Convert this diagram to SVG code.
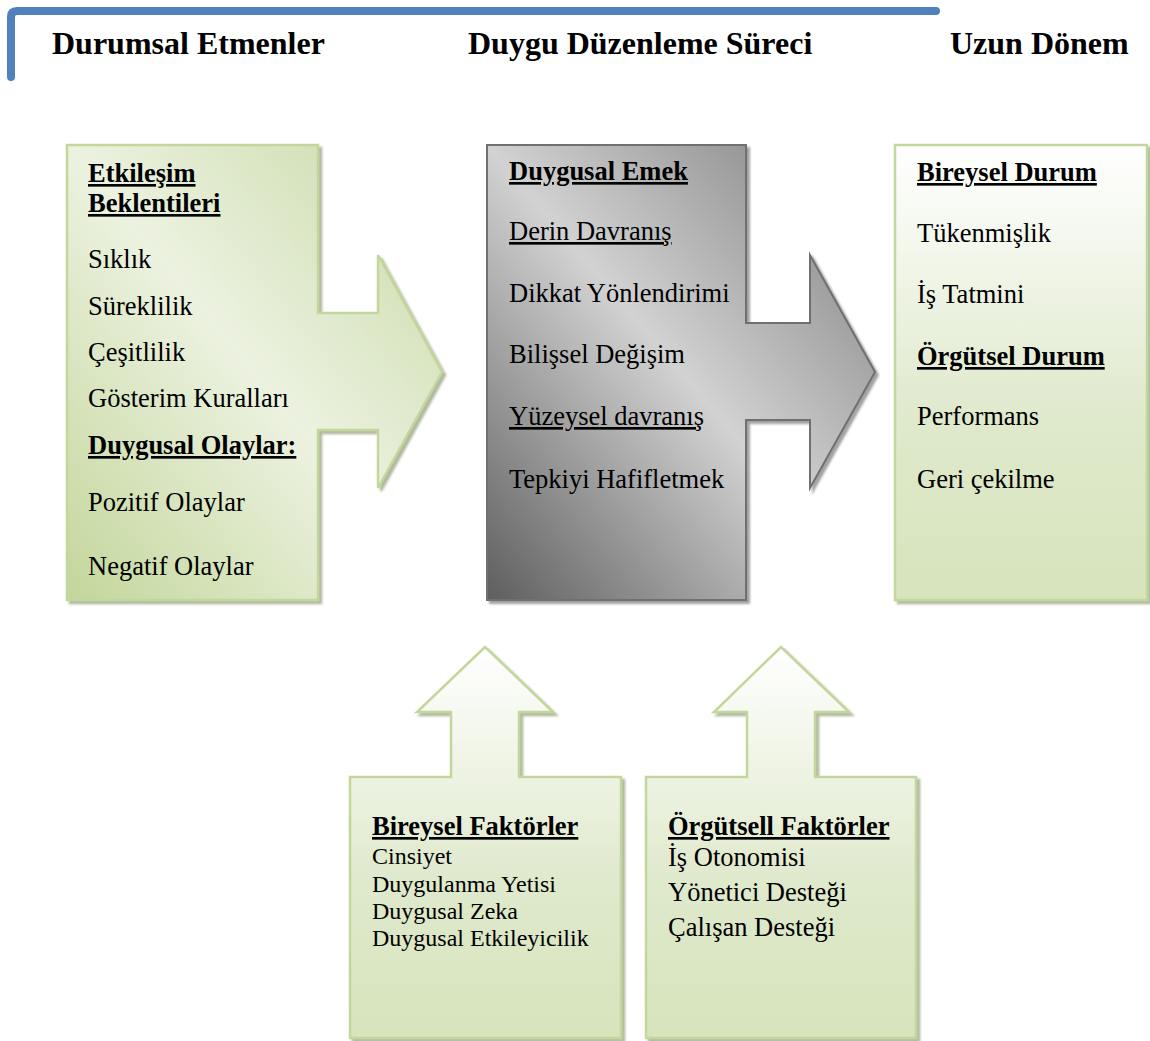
<svg xmlns="http://www.w3.org/2000/svg" width="1150" height="1041" viewBox="0 0 1150 1041">
  <style>
    text { font-family: "Liberation Serif", "Times New Roman", serif; fill: #000; }
    .h { font-size: 32px; font-weight: bold; }
    .t { font-size: 26.5px; }
    .s { font-size: 24px; }
    .b { font-weight: bold; }
    .u { text-decoration: underline; }
    .b.u { text-decoration-thickness: 2.5px; }
    .green { stroke: #c3d69b; stroke-width: 2.5; }
    .gray { stroke: #6f6f6f; stroke-width: 2; }
  </style>
  <defs>
    <linearGradient id="gDiag" x1="0" y1="1" x2="1" y2="0">
      <stop offset="0" stop-color="#c3d69b"/>
      <stop offset="0.5" stop-color="#ecf2e0"/>
      <stop offset="1" stop-color="#c8d9a6"/>
    </linearGradient>
    <linearGradient id="gGray" x1="0" y1="1" x2="1" y2="0">
      <stop offset="0" stop-color="#5e5e5e"/>
      <stop offset="0.5" stop-color="#d2d2d2"/>
      <stop offset="1" stop-color="#7a7a7a"/>
    </linearGradient>
    <linearGradient id="gVert" x1="0" y1="0" x2="0" y2="1">
      <stop offset="0" stop-color="#ffffff"/>
      <stop offset="0.6" stop-color="#dfe9cc"/>
      <stop offset="1" stop-color="#d7e4bc"/>
    </linearGradient>
    <filter id="shGreen" x="-5%" y="-5%" width="115%" height="115%">
      <feDropShadow dx="3" dy="3" stdDeviation="1" flood-color="#7d8c60" flood-opacity="0.6"/>
    </filter>
    <filter id="shGray" x="-5%" y="-5%" width="115%" height="115%">
      <feDropShadow dx="3" dy="3" stdDeviation="1" flood-color="#555555" flood-opacity="0.55"/>
    </filter>
  </defs>

  <!-- header frame and column titles -->
  <g id="header">
    <path d="M11,77 V17 Q11,11 17,11 H936" fill="none" stroke="#4f81bd" stroke-width="8" stroke-linecap="round"/>
    <text class="h" x="52" y="54">Durumsal Etmenler</text>
    <text class="h" x="468" y="54">Duygu Düzenleme Süreci</text>
    <text class="h" x="950" y="54">Uzun Dönem</text>
  </g>

  <!-- situational factors: right-arrow callout -->
  <g id="situational">
    <path class="green" filter="url(#shGreen)" fill="url(#gDiag)" d="M67,145 H318 V313 H378 V255 L442,372 L378,488 V430 H318 V600 H67 Z"/>
    <text class="t b u" x="88" y="182">Etkileşim</text>
    <text class="t b u" x="88" y="212">Beklentileri</text>
    <text class="t" x="88" y="268">Sıklık</text>
    <text class="t" x="88" y="315">Süreklilik</text>
    <text class="t" x="88" y="361">Çeşitlilik</text>
    <text class="t" x="88" y="407">Gösterim Kuralları</text>
    <text class="t b u" x="88" y="454">Duygusal Olaylar:</text>
    <text class="t" x="88" y="511">Pozitif Olaylar</text>
    <text class="t" x="88" y="575">Negatif Olaylar</text>
  </g>

  <!-- emotion regulation process: gray right-arrow callout -->
  <g id="process">
    <path class="gray" filter="url(#shGray)" fill="url(#gGray)" d="M487,145 H746 V323 H810 V255 L875,372 L810,488 V420 H746 V600 H487 Z"/>
    <text class="t b u" x="509" y="180">Duygusal Emek</text>
    <text class="t u" x="509" y="240">Derin Davranış</text>
    <text class="t" x="509" y="302">Dikkat Yönlendirimi</text>
    <text class="t" x="509" y="363">Bilişsel Değişim</text>
    <text class="t u" x="509" y="425">Yüzeysel davranış</text>
    <text class="t" x="509" y="488">Tepkiyi Hafifletmek</text>
  </g>

  <!-- long-term outcomes -->
  <g id="outcomes">
    <rect class="green" filter="url(#shGreen)" fill="url(#gVert)" x="895" y="145" width="252" height="455"/>
    <text class="t b u" x="917" y="181">Bireysel Durum</text>
    <text class="t" x="917" y="242">Tükenmişlik</text>
    <text class="t" x="917" y="303">İş Tatmini</text>
    <text class="t b u" x="917" y="365">Örgütsel Durum</text>
    <text class="t" x="917" y="425">Performans</text>
    <text class="t" x="917" y="488">Geri çekilme</text>
  </g>

  <!-- individual factors: up-arrow callout -->
  <g id="individual">
    <path class="green" filter="url(#shGreen)" fill="url(#gVert)" d="M350,777 H451 V712 H417 L485,647 L553,712 H519 V777 H621 V1038 H350 Z"/>
    <text class="t b u" x="372" y="835">Bireysel Faktörler</text>
    <text class="s" x="372" y="864">Cinsiyet</text>
    <text class="s" x="372" y="892">Duygulanma Yetisi</text>
    <text class="s" x="372" y="919">Duygusal Zeka</text>
    <text class="s" x="372" y="946">Duygusal Etkileyicilik</text>
  </g>

  <!-- organisational factors: up-arrow callout -->
  <g id="organisational">
    <path class="green" filter="url(#shGreen)" fill="url(#gVert)" d="M646,777 H747 V712 H714 L781,647 L849,712 H815 V777 H916 V1038 H646 Z"/>
    <text class="t b u" x="668" y="835">Örgütsell Faktörler</text>
    <text class="t" x="668" y="866">İş Otonomisi</text>
    <text class="t" x="668" y="901">Yönetici Desteği</text>
    <text class="t" x="668" y="936">Çalışan Desteği</text>
  </g>

  <!-- connectors are the callout arrows themselves -->
  <g id="connectors"></g>
</svg>
